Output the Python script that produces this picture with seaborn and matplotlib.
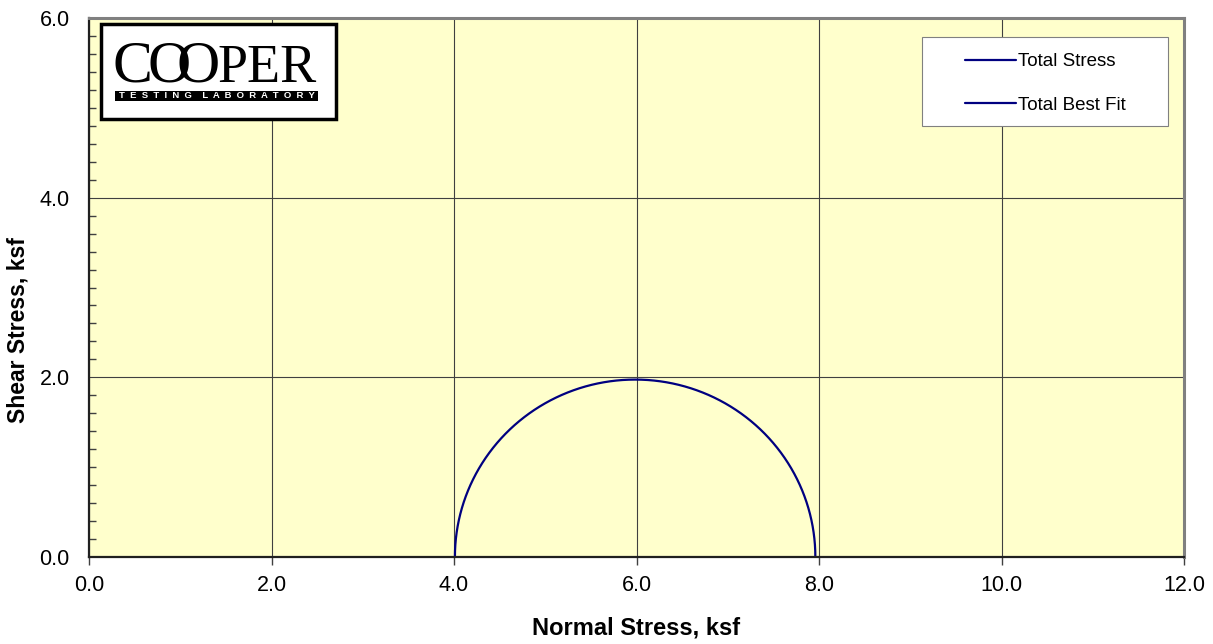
import numpy as np
import pandas as pd
import matplotlib
matplotlib.use("Agg")
import matplotlib.pyplot as plt
import matplotlib.patches as patches
import seaborn as sns

# Mohr circle from the test: minor and major principal stress (ksf)
sigma_3 = 4.01
sigma_1 = 7.96
series_labels = ["Total Stress", "Total Best Fit"]
x_ticks = [0, 2, 4, 6, 8, 10, 12]
y_ticks = [0, 2, 4, 6]

# points on the half circle (the chart draws the circle from the two stresses)
center = (sigma_1 + sigma_3) / 2
radius = (sigma_1 - sigma_3) / 2
theta = np.linspace(np.pi, 0, 181)
circle = pd.DataFrame({
    "normal": center + radius * np.cos(theta),
    "shear": radius * np.sin(theta),
})

sns.set_theme(style="ticks")
plt.rcParams['font.family'] = ['Liberation Sans', 'DejaVu Sans']
plt.rcParams['text.color'] = 'black'
plt.rcParams['axes.labelcolor'] = 'black'
plt.rcParams['xtick.labelcolor'] = 'black'
plt.rcParams['ytick.labelcolor'] = 'black'

W, H = 1213, 644
fig = plt.figure(figsize=(W / 100, H / 100), dpi=100)
ax = fig.add_axes([89 / W, 1 - 557 / H, (1184 - 89) / W, (557 - 18) / H])
ax.set_facecolor("#FFFFCC")

navy = "#000080"
sns.lineplot(data=circle, x="normal", y="shear", sort=False, estimator=None,
             color=navy, linewidth=1.6, ax=ax, label=series_labels[0])
ax.plot([], [], color=navy, linewidth=1.6, label=series_labels[1])

ax.set_xlim(0, 12)
ax.set_ylim(0, 6)
ax.set_xticks(x_ticks)
ax.set_yticks(y_ticks)
ax.set_xticklabels([f"{v:.1f}" for v in x_ticks])
ax.set_yticklabels([f"{v:.1f}" for v in y_ticks])
ax.set_yticks(np.arange(0, 6.01, 0.2), minor=True)
ax.tick_params(axis="x", direction="out", length=6, width=1, color="#404040",
               labelsize=15.5, pad=7)
ax.tick_params(axis="y", which="major", direction="in", length=0, labelsize=15.5, pad=14)
ax.tick_params(axis="y", which="minor", direction="in", length=5, width=1, color="#404040")
ax.grid(True, which="major", color="#404040", linewidth=0.8)

for side in ["left", "bottom"]:
    ax.spines[side].set_color("#202020")
    ax.spines[side].set_linewidth(1.6)
for side in ["top", "right"]:
    ax.spines[side].set_color("#808080")
    ax.spines[side].set_linewidth(2.2)

ax.set_xlabel("Normal Stress, ksf", fontsize=17, fontweight="bold", labelpad=15)
ax.set_ylabel("Shear Stress, ksf", fontsize=16.5, fontweight="bold")
ax.yaxis.set_label_coords(-0.054, 0.421)

# legend without its own frame; the frame is drawn as a box like the original
leg = ax.legend(loc="upper left", bbox_to_anchor=((965 - 89) / 1095, (557 - 53) / 539),
                fontsize=13.5, frameon=False, handlelength=2.7, handletextpad=0.12,
                labelspacing=1.42, borderpad=0, borderaxespad=0)
for t in leg.get_texts():
    t.set_color("black")
ax.add_patch(patches.Rectangle((922 / W, 1 - 126 / H), (1168 - 922) / W, (126 - 37) / H,
                               transform=fig.transFigure, facecolor="white",
                               edgecolor="#808080", linewidth=0.8, zorder=4))

# logo box
fig.add_artist(patches.Rectangle((101 / W, 1 - 119 / H), (336 - 101) / W, (119 - 24) / H,
                                 transform=fig.transFigure, facecolor="white",
                                 edgecolor="black", linewidth=2.5, zorder=5))
letters = ["C", "O", "O", "PER"]
centers = [132, 169, 198, 267]
sizes = [43, 43, 43, 39]
for ch, cx, fs in zip(letters, centers, sizes):
    fig.text(cx / W, 1 - 82 / H, ch, family=["Liberation Serif", "DejaVu Serif"],
             fontsize=fs, ha="center", va="baseline", color="black", zorder=6)
fig.add_artist(patches.Rectangle((115 / W, 1 - 101 / H), (318 - 115) / W, 10 / H,
                                 transform=fig.transFigure, facecolor="black",
                                 edgecolor="none", zorder=6))
fig.text(217 / W, 1 - 96 / H, "T  E  S  T  I  N  G    L  A  B  O  R  A  T  O  R  Y",
         fontsize=6.8, fontweight="bold", color="white", ha="center", va="center",
         zorder=7)

fig.savefig("out.png", dpi=100)
